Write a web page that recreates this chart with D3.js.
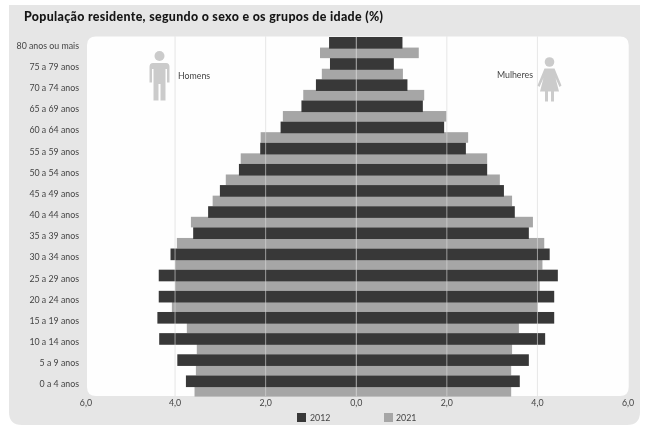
<!DOCTYPE html>
<html><head><meta charset="utf-8">
<script src="https://cdn.jsdelivr.net/npm/d3@7"></script>
<style>html,body{margin:0;padding:0;background:#fff}svg{display:block;filter:blur(.35px)}text{font-family:Lato,"Noto Sans",sans-serif}</style>
</head><body><div id="c"></div>
<script>
const titleText = "População residente, segundo o sexo e os grupos de idade (%)";
const ageGroups = ["80 anos ou mais","75 a 79 anos","70 a 74 anos","65 a 69 anos","60 a 64 anos","55 a 59 anos","50 a 54 anos","45 a 49 anos","40 a 44 anos","35 a 39 anos","30 a 34 anos","25 a 29 anos","20 a 24 anos","15 a 19 anos","10 a 14 anos","5 a 9 anos","0 a 4 anos"];
const men2012 = [0.60,0.58,0.89,1.21,1.67,2.12,2.59,3.01,3.27,3.60,4.10,4.36,4.36,4.39,4.35,3.95,3.76];
const men2021 = [0.80,0.76,1.17,1.62,2.11,2.55,2.88,3.17,3.65,3.96,4.00,4.00,4.07,3.74,3.52,3.54,3.57];
const women2012 = [1.02,0.83,1.13,1.47,1.94,2.42,2.89,3.26,3.50,3.81,4.27,4.45,4.37,4.37,4.17,3.81,3.61];
const women2021 = [1.38,1.03,1.50,1.99,2.47,2.89,3.17,3.44,3.90,4.15,4.11,4.05,4.01,3.59,3.44,3.42,3.42];
const xTicks = [-6,-4,-2,0,2,4,6];
const gridTicks = [-4,-2,0,2,4];
const legendYears = ["2012","2021"];

const W=647,H=433;
const svg=d3.select("#c").append("svg").attr("width",W).attr("height",H);
const x=d3.scaleLinear().domain([-6,6]).range([84.45,628.05]);
const y=d3.scaleBand().domain(ageGroups).range([37,396.6]).padding(0);
const C12="#383838",C21="#a6a6a6";

// panel
svg.append("path").attr("fill","#e6e6e6")
  .attr("d","M9,5H640V412Q640,425 627,425H22Q9,425 9,412Z");
// plot area
svg.append("path").attr("fill","#fefefe")
  .attr("d","M96,36.5H620Q628.7,36.5 628.7,45V387Q628.7,396 620,396H96Q87,396 87,387V45Q87,36.5 96,36.5Z");

svg.append("text").attr("x",24).attr("y",21).attr("font-size",12.4).attr("font-weight",900).attr("fill","#151515").attr("textLength",359).attr("lengthAdjust","spacing").text(titleText);

// bars: 2021 first, 2012 on top
const g=svg.append("g");
const bh=y.bandwidth();
function bars(data,side,color,off,h){
  g.selectAll(null).data(ageGroups).enter().append("rect")
   .attr("x",(d,i)=>side<0?x(-data[i]):x(0))
   .attr("width",(d,i)=>Math.abs(x(data[i])-x(0)))
   .attr("y",d=>y(d)+off).attr("height",h).attr("fill",color);
}
bars(men2021,-1,C21,bh*0.5,bh*0.5);
bars(women2021,1,C21,bh*0.5,bh*0.5);
bars(men2012,-1,C12,0,bh*0.55);
bars(women2012,1,C12,0,bh*0.55);

// grid over bars
svg.append("g").selectAll("line").data(gridTicks).enter().append("line")
  .attr("x1",d=>x(d)).attr("x2",d=>x(d)).attr("y1",36.5).attr("y2",396)
  .attr("stroke","#d8d8d8").attr("stroke-opacity",.7).attr("stroke-width",.9);

// category labels
svg.append("g").selectAll("text").data(ageGroups).enter().append("text")
  .attr("x",79).attr("y",d=>y(d)+bh*0.3+5.5).attr("text-anchor","end")
  .attr("font-size",8.8).attr("fill","#444").text(d=>d);

// x axis labels
const fmt=v=>d3.format(".1f")(Math.abs(v)).replace(".",",");
svg.append("g").selectAll("text").data(xTicks).enter().append("text")
  .attr("x",d=>x(d)+(d===-6?1.5:0)).attr("y",406).attr("text-anchor","middle")
  .attr("font-size",8.8).attr("fill","#444").text(fmt);

// legend
const lg=svg.append("g").selectAll("g").data(legendYears).enter().append("g");
lg.append("rect").attr("x",(d,i)=>[297,384][i]).attr("y",413).attr("width",9).attr("height",9)
  .attr("fill",(d,i)=>[C12,C21][i]);
lg.append("text").attr("x",(d,i)=>[310,396][i]).attr("y",420.5).attr("font-size",8.8).attr("fill","#444").text(d=>d);

// sex labels
svg.append("text").attr("x",178).attr("y",79).attr("font-size",8.8).attr("fill","#444").text("Homens");
svg.append("text").attr("x",533).attr("y",78).attr("text-anchor","end").attr("font-size",8.8).attr("fill","#444").text("Mulheres");

// icons
const ic="#cbcbcb";
const man=svg.append("g").attr("fill",ic);
man.append("circle").attr("cx",159.5).attr("cy",56).attr("r",5);
man.append("path").attr("d","M153,63H166Q169.5,63 169.5,67V82.5H167V69H165.5V100.5H160.5V84H158.5V100.5H153.5V69H152V82.5H149.5V67Q149.5,63 153,63Z");
const wom=svg.append("g").attr("fill",ic);
wom.append("circle").attr("cx",549.5).attr("cy",62).attr("r",4.8);
wom.append("path").attr("d","M544.5,68.5H554.5L561.5,85.5L559.5,87L555.5,78L559,91.5H554V101.5H551V91.5H548V101.5H545V91.5H540L543.5,78L539.5,87L537.5,85.5Z");
</script></body></html>
